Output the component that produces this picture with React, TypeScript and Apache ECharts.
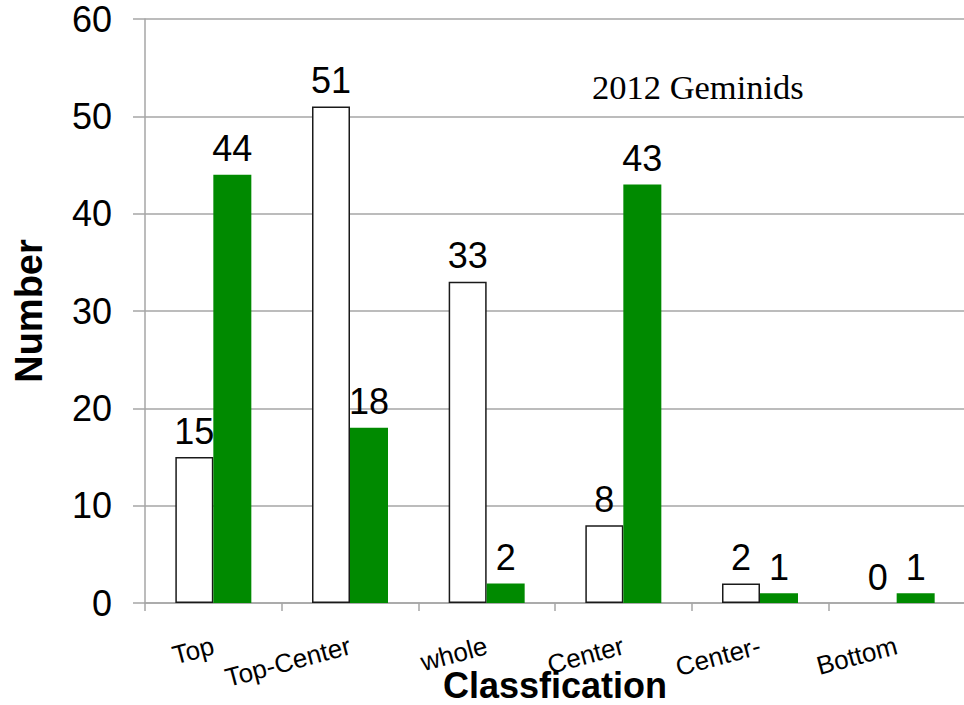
import React, { useEffect, useRef } from "react";
import * as echarts from "echarts";

const categories = ["Top", "Top-Center", "whole", "Center", "Center-", "Bottom"];
const whiteValues = [15, 51, 33, 8, 2, 0];
const greenValues = [44, 18, 2, 43, 1, 1];
const yTicks = { min: 0, max: 60, interval: 10 };
const annotation = "2012 Geminids";

const SANS = 'Arial, "Liberation Sans", sans-serif';

export default function App() {
  const ref = useRef<HTMLDivElement>(null);
  useEffect(() => {
    if (!ref.current) return;
    const chart = echarts.init(ref.current, null, { renderer: "svg" });
    const labelCfg = {
      show: true,
      position: "top",
      distance: 8,
      color: "#000",
      fontSize: 36,
      fontFamily: SANS,
    };
    chart.setOption({
      animation: false,
      backgroundColor: "#fff",
      grid: {
        left: 145,
        right: -1,
        top: 19,
        bottom: 102,
        containLabel: false,
        outerBoundsMode: "none",
      },
      xAxis: {
        type: "category",
        data: categories,
        boundaryGap: true,
        axisLine: { lineStyle: { color: "#a6a6a6", width: 1.5 } },
        axisTick: { show: true, length: 8, alignWithLabel: false, lineStyle: { color: "#a6a6a6", width: 1.5 } },
        axisLabel: {
          rotate: 15,
          margin: 42,
          fontSize: 26,
          color: "#000",
          fontFamily: SANS,
          interval: 0,
        },
        name: "Classfication",
        nameLocation: "middle",
        nameGap: 64,
        nameMoveOverlap: false,
        nameTextStyle: { fontSize: 36, fontWeight: "bold", color: "#000", fontFamily: SANS },
      },
      yAxis: {
        type: "value",
        min: yTicks.min,
        max: yTicks.max,
        interval: yTicks.interval,
        axisLine: { show: true, lineStyle: { color: "#a6a6a6", width: 1.5 } },
        axisTick: { show: true, length: 12, lineStyle: { color: "#a6a6a6", width: 1.5 } },
        splitLine: { show: true, lineStyle: { color: "#a6a6a6", width: 1.5 } },
        axisLabel: { margin: 33, fontSize: 36, color: "#000", fontFamily: SANS },
        name: "Number",
        nameLocation: "middle",
        nameRotate: 90,
        nameGap: 97,
        nameMoveOverlap: false,
        nameTextStyle: { fontSize: 38, fontWeight: "bold", color: "#000", fontFamily: SANS },
      },
      graphic: [
        {
          type: "text",
          left: 592,
          top: 69,
          style: {
            text: annotation,
            font: '34.5px "Liberation Serif", "Times New Roman", serif',
            fill: "#000",
          },
        },
      ],
      series: [
        {
          type: "bar",
          barWidth: 38,
          barGap: "0%",
          data: whiteValues.map((v) => ({
            value: v,
            itemStyle: v === 0 ? { borderWidth: 0 } : undefined,
          })),
          itemStyle: { color: "#ffffff", borderColor: "#1a1a1a", borderWidth: 1.5 },
          label: labelCfg,
        },
        {
          type: "bar",
          barWidth: 38,
          barGap: "0%",
          data: greenValues,
          itemStyle: { color: "#008a00" },
          label: labelCfg,
        },
      ],
    });
    return () => chart.dispose();
  }, []);
  return (
    <div
      ref={ref}
      style={{ position: "fixed", left: 0, top: 0, width: 964, height: 705, background: "#fff" }}
    />
  );
}
